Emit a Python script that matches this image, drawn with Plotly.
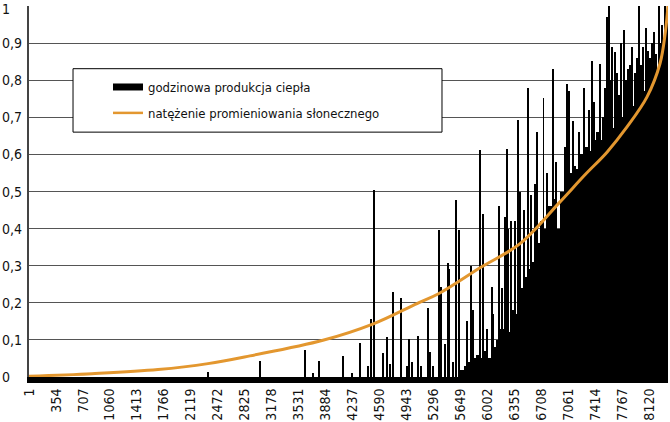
import plotly.graph_objects as go

# ---------------- data ----------------
N_HOURS = 8364
tick_hours = [1, 354, 707, 1060, 1413, 1766, 2119, 2472, 2825, 3178, 3531, 3884,
              4237, 4590, 4943, 5296, 5649, 6002, 6355, 6708, 7061, 7414, 7767, 8120]
y_ticks = [0, 0.1, 0.2, 0.3, 0.4, 0.5, 0.6, 0.7, 0.8, 0.9, 1]
y_tick_text = ["0", "0,1", "0,2", "0,3", "0,4", "0,5", "0,6", "0,7", "0,8", "0,9", "1"]

# dense part of hourly heat production (hour, normalised value)
mass_hours = [5668, 5720, 5773, 5825, 5877, 5930, 5982, 6034, 6087, 6139, 6192, 6244,
              6296, 6349, 6401, 6453, 6506, 6558, 6610, 6663, 6715, 6768, 6820, 6872,
              6925, 6977, 7029, 7082, 7134, 7186, 7239, 7291, 7343, 7396, 7448, 7500,
              7553, 7605, 7657, 7710, 7762, 7815, 7867, 7919, 7972, 8024, 8076, 8129,
              8181, 8233, 8286, 8338]
mass_values = [0.02, 0.03, 0.04, 0.05, 0.06, 0.05, 0.07, 0.05, 0.08, 0.10, 0.13, 0.15,
               0.12, 0.18, 0.17, 0.24, 0.27, 0.29, 0.31, 0.36, 0.42, 0.40, 0.46, 0.48,
               0.40, 0.50, 0.52, 0.55, 0.57, 0.56, 0.60, 0.62, 0.61, 0.64, 0.66, 0.64,
               0.68, 0.70, 0.67, 0.72, 0.70, 0.74, 0.76, 0.73, 0.78, 0.80, 0.77, 0.83,
               0.85, 0.83, 0.90, 0.97]

# isolated hourly peaks (hour, normalised value)
spike_hours = [2343, 3030, 3613, 3714, 3796, 4110, 4224, 4333, 4438, 4473, 4520, 4630,
               4690, 4725, 4761, 4866, 4944, 4978, 5010, 5096, 5127, 5219, 5249, 5284,
               5367, 5389, 5445, 5481, 5502, 5546, 5585, 5629, 5730, 5782, 5816, 5910,
               5939, 5991, 6057, 6074, 6156, 6188, 6231, 6253, 6274, 6305, 6362, 6397,
               6430, 6480, 6530, 6567, 6620, 6654, 6735, 6780, 6853, 6900, 7020, 7038,
               7073, 7121, 7200, 7261, 7330, 7366, 7400, 7474, 7510, 7540, 7562, 7592,
               7610, 7631, 7677, 7700, 7720, 7749, 7793, 7820, 7845, 7870, 7889, 7930,
               7960, 7985, 8010, 8041, 8077, 8100, 8129, 8160, 8184, 8210, 8247, 8280,
               8325]
spike_values = [0.013, 0.043, 0.072, 0.01, 0.043, 0.056, 0.012, 0.093, 0.03, 0.157, 0.503, 0.064,
                0.107, 0.035, 0.229, 0.214, 0.03, 0.103, 0.04, 0.11, 0.03, 0.186, 0.067, 0.03,
                0.395, 0.243, 0.09, 0.306, 0.29, 0.04, 0.478, 0.395, 0.15, 0.30, 0.18, 0.611,
                0.44, 0.13, 0.243, 0.17, 0.46, 0.24, 0.43, 0.614, 0.40, 0.42, 0.42, 0.692,
                0.50, 0.45, 0.78, 0.49, 0.52, 0.66, 0.753, 0.55, 0.83, 0.58, 0.62, 0.79,
                0.77, 0.69, 0.66, 0.78, 0.72, 0.852, 0.74, 0.845, 0.70, 0.78, 0.97, 1.0,
                0.80, 0.89, 0.875, 0.82, 0.76, 0.90, 0.936, 0.80, 0.83, 0.84, 0.89, 0.82,
                0.86, 1.0, 0.84, 0.89, 0.94, 0.88, 0.86, 0.90, 0.93, 0.87, 1.0, 0.95,
                1.0]

# solar irradiance (sorted), read at points along the curve
sun_hours = [1, 825, 1689, 2343, 2893, 3848, 4516, 5079, 5367, 5910, 6432, 6951,
             7278, 7566, 7828, 8090, 8260, 8330, 8364]
sun_values = [0.002, 0.009, 0.02, 0.036, 0.057, 0.099, 0.144, 0.198, 0.225, 0.295, 0.36, 0.472,
              0.545, 0.606, 0.674, 0.755, 0.845, 0.93, 1.0]

NAME_BAR = "godzinowa produkcja ciepła"
NAME_LINE = "natężenie promieniowania słonecznego"

FONT = "Liberation Sans Narrow, DejaVu Sans Condensed, Arial Narrow, sans-serif"
ORANGE = "#E3972F"

fig = go.Figure()
fig.add_trace(go.Bar(x=mass_hours, y=mass_values, width=53, marker=dict(color="black", line=dict(width=0)),
                     showlegend=False, hoverinfo="skip"))
fig.add_trace(go.Bar(x=spike_hours, y=spike_values, width=13, marker=dict(color="black", line=dict(width=0)),
                     showlegend=False, hoverinfo="skip"))
fig.add_trace(go.Scatter(x=sun_hours, y=sun_values, mode="lines", line=dict(color=ORANGE, width=3, shape="spline"),
                         showlegend=False))
# legend entries
fig.add_trace(go.Scatter(x=[None], y=[None], mode="lines", line=dict(color="black", width=7),
                         name=NAME_BAR, legendgroup="a"))
fig.add_trace(go.Scatter(x=[None], y=[None], mode="lines", line=dict(color=ORANGE, width=2.5),
                         name=NAME_LINE, legendgroup="b"))

annotations = []
for v, t in zip(y_ticks, y_tick_text):
    annotations.append(dict(x=0, xref="paper", xshift=-29, xanchor="left", y=v, yref="y",
                            yanchor="middle", yshift=(-3 if v == 1 else 0), text=t, showarrow=False,
                            font=dict(family=FONT, size=14, color="#111")))

fig.update_layout(
    width=670, height=422,
    margin=dict(l=29, r=2, t=6, b=45),
    paper_bgcolor="white", plot_bgcolor="white",
    barmode="overlay", bargap=0,
    font=dict(family=FONT, size=14, color="#111"),
    xaxis=dict(range=[0.5, N_HOURS + 0.5], tickmode="array", tickvals=tick_hours,
               ticktext=[str(t) for t in tick_hours], tickangle=-90, showgrid=False,
               zeroline=False, showline=True, linecolor="black", linewidth=6,
               ticks="", tickfont=dict(family=FONT, size=14, color="#111")),
    yaxis=dict(range=[0, 1], tickvals=y_ticks, showticklabels=False, showgrid=True,
               gridcolor="#555", gridwidth=1, zeroline=False, showline=True,
               linecolor="#444", linewidth=2, ticks=""),
    shapes=[dict(type="rect", xref="paper", yref="paper", x0=0.0689, x1=0.6463, y0=0.660, y1=0.831,
                 fillcolor="white", line=dict(color="black", width=1), layer="above")],
    legend=dict(x=0.1236, y=0.822, xanchor="left", yanchor="top", bgcolor="rgba(0,0,0,0)",
                borderwidth=0, tracegroupgap=6, font=dict(family=FONT, size=13, color="#111")),
    annotations=annotations,
)

fig.write_html("out.html")
